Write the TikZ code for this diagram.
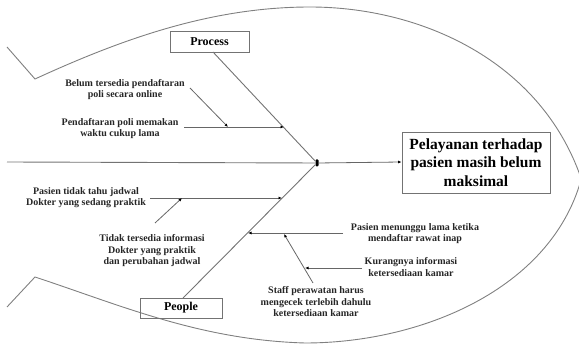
\documentclass[tikz,border=0pt]{standalone}
\usepackage{fontspec}
\setmainfont{Liberation Serif}
\usetikzlibrary{arrows.meta}
\begin{document}
\begin{tikzpicture}[x=1pt,y=-1pt,
  outline/.style={draw=black!50, line width=0.9pt},
  bone/.style={draw=black!55, line width=0.9pt},
  subarrow/.style={draw=black!60, line width=0.8pt, -{Latex[length=3.5pt,width=3pt,color=black]}},
  causebox/.style={draw=black!55, line width=0.9pt, inner sep=0pt, font=\fontsize{12}{14}\selectfont\bfseries},
  effectbox/.style={draw=black!55, line width=0.9pt, inner sep=0pt, align=center,
    minimum width=148pt, minimum height=61pt, font=\fontsize{15.5}{18.5}\selectfont\bfseries},
  note/.style={align=center, inner sep=0pt, text=black!85, font=\fontsize{10}{11.5}\selectfont\bfseries}]
\useasboundingbox (0,0) rectangle (579,347);

% fish outline
\draw[outline] (7,47) -- (35,79) .. controls (120,40) and (210,7) .. (310,7)
  .. controls (420,7) and (540,60) .. (581,178);
\draw[outline] (7,307) -- (35,277) .. controls (120,305) and (200,340) .. (305,343)
  .. controls (420,343) and (550,290) .. (581,180);

% head: effect
\node[effectbox] (effect) at (476,162.5) {Pelayanan terhadap\\pasien masih belum\\maksimal};

% spine
\coordinate (tail) at (7,162);
\node[fill=black, minimum width=3pt, minimum height=7pt, inner sep=0pt, rounded corners=1pt] (joint) at (317,163) {};
\draw[bone] (tail) -- (joint);
\draw[subarrow] (joint) -- (effect.west |- 0,162);

% main causes
\node[causebox, minimum width=79pt, minimum height=21pt] (process) at (209.5,41.5) {Process};
\node[causebox, minimum width=82pt, minimum height=20pt] (people) at (181,308) {People};
\coordinate (procfoot) at (213,52);
\coordinate (peopfoot) at (183,298);
\draw[bone] (procfoot) -- (joint);
\draw[bone] (peopfoot) -- (joint);

% Process branches
\node[note] (p1) at (125,89.5) {Belum tersedia pendaftaran\\poli secara online};
\node[note] (p2) at (120,128.5) {Pendaftaran poli memakan\\waktu cukup lama};
\coordinate (p2s) at (184,127);
\coordinate (p2e) at (284,127);
\coordinate (p1s) at (190,88);
\coordinate (p1e) at (228,127);
\draw[subarrow] (p2s) -- (p2e);
\draw[subarrow] (p1s) -- (p1e);

% People branches
\node[note] (g1) at (86,197.5) {Pasien tidak tahu jadwal\\Dokter yang sedang praktik};
\node[note] (g2) at (152,251) {Tidak tersedia informasi\\Dokter yang praktik\\dan perubahan jadwal};
\coordinate (g1s) at (150,198);
\coordinate (g1e) at (282,198);
\coordinate (g2s) at (155,223);
\coordinate (g2e) at (182,198);
\draw[subarrow] (g1s) -- (g1e);
\draw[subarrow] (g2s) -- (g2e);

\node[note] (g3) at (415,233.5) {Pasien menunggu lama ketika\\mendaftar rawat inap};
\node[note] (g4) at (411,267) {Kurangnya informasi\\ketersediaan kamar};
\node[note] (g5) at (316,302) {Staff perawatan harus\\mengecek terlebih dahulu\\ketersediaan kamar};
\coordinate (g3s) at (343,233);
\coordinate (g3e) at (248,233);
\coordinate (g5s) at (313,283);
\coordinate (g5e) at (284,234);
\coordinate (g4s) at (362,268);
\coordinate (g4e) at (305,268);
\draw[subarrow] (g3s) -- (g3e);
\draw[subarrow] (g5s) -- (g5e);
\draw[subarrow] (g4s) -- (g4e);
\end{tikzpicture}
\end{document}
